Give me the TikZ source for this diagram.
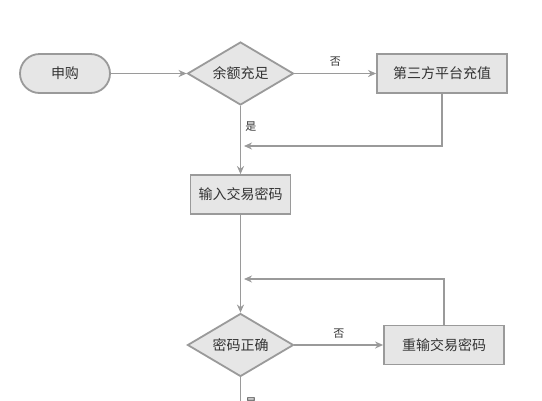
\documentclass[tikz,border=0pt]{standalone}
\usepackage{fontspec}
\setmainfont{Noto Sans CJK SC}
\usetikzlibrary{shapes.geometric,arrows.meta,calc}
\definecolor{edge}{HTML}{9A9A9A}
\definecolor{boxfill}{HTML}{E6E6E6}
\definecolor{txt}{HTML}{333333}
\tikzset{
  base/.style={draw=edge, line width=1.8pt, fill=boxfill, text=txt, font=\fontsize{14}{15}\selectfont, inner sep=0pt},
  terminal/.style={base, rectangle, rounded corners=19.5pt, minimum width=90pt, minimum height=39pt},
  procbox/.style={base, rectangle, minimum height=39pt},
  decision/.style={base, diamond, shape aspect=1.67, minimum width=106pt, minimum height=63pt},
  arr/.style={draw=edge, line width=1.8pt, -{Stealth[length=8pt,width=7pt]}},
  ln/.style={draw=edge, line width=1.8pt},
  lbl/.style={text=txt, font=\fontsize{11}{12}\selectfont, inner sep=0pt}
}
\begin{document}
\begin{tikzpicture}[x=1pt,y=-1pt]
\clip (0,0) rectangle (542,400);
\fill[white] (0,0) rectangle (542,400);
\node[terminal] (start) at (65,73.5) {申购};
\node[decision] (d1) at (240.5,73.5) {余额充足};
\node[procbox, minimum width=130pt] (b1) at (442,73.5) {第三方平台充值};
\node[procbox, minimum width=100pt] (b2) at (240.5,194.5) {输入交易密码};
\node[decision] (d2) at (240.5,345) {密码正确};
\node[procbox, minimum width=120pt] (b3) at (444,345) {重输交易密码};
\coordinate (j1) at (244,146);
\coordinate (j2) at (244,279);
\coordinate (bot) at (240.5,402);

\draw[arr] (start.east) -- (d1.west);
\draw[arr] (d1.east) -- node[lbl, above=6pt] {否} (b1.west);
\draw[arr] (d1.south) -- node[lbl, pos=0.3, right=4pt] {是} (b2.north);
\draw[arr] (b1.south) |- (j1);
\draw[arr] (b2.south) -- (d2.north);
\draw[arr] (d2.east) -- node[lbl, above=6pt] {否} (b3.west);
\draw[arr] (b3.north) |- (j2);
\draw[ln] (d2.south) -- (bot);
\node[lbl] (yes2) at (251,403) {是};
\end{tikzpicture}
\end{document}
